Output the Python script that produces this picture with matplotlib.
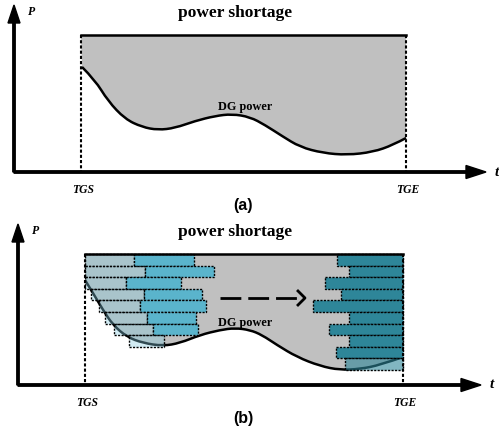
import matplotlib
matplotlib.use('Agg')
import matplotlib.pyplot as plt
from matplotlib.path import Path
from matplotlib.patches import PathPatch, Rectangle

# curve (pixel coords, y down)
curve_a_x = [82, 95, 108, 125, 142, 158, 175, 195, 215, 232, 250, 265, 282, 300, 323, 347, 373, 393, 406]
curve_a_y = [67, 80, 101, 119, 127, 130, 128, 121, 116, 114, 117, 125, 136, 147, 153, 155, 152, 145, 138]
curve_b_x = [85, 93, 103, 113, 127, 143, 163, 180, 200, 220, 235, 250, 262, 277, 297, 320, 340, 360, 380, 403]
curve_b_y = [280, 293, 310, 325, 337, 343, 346, 343, 335, 330, 328, 330, 335, 345, 357, 366, 370, 369, 365, 357]

# left block rows (panel b): grey part start / split / blue end
left_start = [85, 85, 85, 91, 99, 105, 114, 129]
left_split = [134, 145, 126, 144, 140, 147, 153, 164]
left_end = [194, 214, 181, 202, 206, 196, 198, None]
# right block rows (panel b): start of each bar, all end at TGE
right_start = [337, 349, 325, 341, 313, 349, 329, 349, 336, 345]

panel_a = dict(ox=14, oy=172, top=35, tgs=81, tge=406, tip_x=486, tip_y=5, dg=72)
panel_b = dict(ox=18, oy=385, top=254, tgs=85, tge=403, tip_x=481, tip_y=224, dg=69)

row_h = 11.6
lw = 1.8
serif = 'Liberation Serif'


def curve_verts(xs, ys):
    verts = [(xs[0], ys[0])]
    codes = [Path.LINETO]
    n = len(xs)
    for i in range(1, n - 1):
        end = (xs[n - 1], ys[n - 1]) if i == n - 2 else ((xs[i] + xs[i + 1]) / 2, (ys[i] + ys[i + 1]) / 2)
        verts += [(xs[i], ys[i]), end]
        codes += [Path.CURVE3, Path.CURVE3]
    return verts, codes


def draw_panel(ax, p, cx, cy, label):
    # gray region between top line and DG curve
    v, c = curve_verts(cx, cy)
    verts = [(p['tgs'], p['top'])] + v + [(p['tge'], p['top']), (p['tgs'], p['top'])]
    codes = [Path.MOVETO] + c + [Path.LINETO, Path.CLOSEPOLY]
    ax.add_patch(PathPatch(Path(verts, codes), facecolor='#c0c0c0', edgecolor='none', zorder=1))
    c2 = [Path.MOVETO] + c[1:]
    ax.add_patch(PathPatch(Path(v, c2), facecolor='none', edgecolor='black', lw=lw, zorder=2))
    ax.plot([p['tgs'], p['tge']], [p['top'], p['top']], color='black', lw=lw, zorder=5)
    for x in (p['tgs'], p['tge']):
        ax.plot([x, x], [p['top'], p['oy']], color='black', lw=1.5,
                linestyle=(0, (1.5, 1)), zorder=5)
    # axes arrows
    ax.arrow(p['ox'], p['oy'], p['tip_x'] - p['ox'], 0, width=2.4, head_width=13,
             head_length=20, length_includes_head=True, color='black', zorder=6)
    ax.arrow(p['ox'], p['oy'], 0, p['tip_y'] - p['oy'], width=2.4, head_width=12,
             head_length=18, length_includes_head=True, color='black', zorder=6)
    ax.text(p['ox'] + 18, p['tip_y'] + 7, 'P', family=serif, weight='bold', style='italic',
            fontsize=8.5, ha='center', va='center')
    ax.text(p['tip_x'] + 11, p['oy'], 't', family=serif, weight='bold', style='italic',
            fontsize=11, ha='center', va='center')
    ax.text(p['tgs'] + 2, p['oy'] + 18, 'TGS', family=serif, weight='bold', style='italic',
            fontsize=8.4, ha='center', va='center')
    ax.text(p['tge'] + 2, p['oy'] + 18, 'TGE', family=serif, weight='bold', style='italic',
            fontsize=8.4, ha='center', va='center')
    ax.text(235, p['top'] - 22, 'power shortage', family=serif, weight='bold',
            fontsize=12.5, ha='center', va='center')
    ax.text(245, p['top'] + p['dg'], 'DG power', family=serif, weight='bold',
            fontsize=8.8, ha='center', va='center', zorder=7)
    ax.text(243, p['oy'] + 33, label, family='Liberation Sans', weight='bold',
            fontsize=11.5, ha='center', va='center')


fig = plt.figure(figsize=(4.99, 4.43), dpi=100)
ax = fig.add_axes([0, 0, 1, 1])
ax.set_xlim(0, 499)
ax.set_ylim(443, 0)
ax.axis('off')

draw_panel(ax, panel_a, curve_a_x, curve_a_y, '(a)')
draw_panel(ax, panel_b, curve_b_x, curve_b_y, '(b)')

edge = dict(edgecolor='black', lw=1.0, linestyle=(0, (1.5, 1)))
top = panel_b['top']
for i in range(len(left_start)):
    y = top + i * row_h
    ax.add_patch(Rectangle((left_start[i], y), left_split[i] - left_start[i], row_h,
                           facecolor=(132 / 255, 203 / 255, 224 / 255, 0.37), zorder=3, **edge))
    if left_end[i] is not None:
        ax.add_patch(Rectangle((left_split[i], y), left_end[i] - left_split[i], row_h,
                               facecolor='#5ab4cc', zorder=3, **edge))

for i in range(len(right_start)):
    y = top + i * row_h
    last = i == len(right_start) - 1
    ax.add_patch(Rectangle((right_start[i], y), panel_b['tge'] - right_start[i], row_h,
                           facecolor=(46 / 255, 134 / 255, 153 / 255, 0.6 if last else 1.0),
                           zorder=3, **edge))

# dashed shift arrow with an open head
ax.plot([220, 304], [298, 298], color='black', lw=2, linestyle=(0, (7.5, 2.5)), zorder=4)
ax.plot([298, 305, 298], [291, 298, 305], color='black', lw=2, zorder=4)

fig.savefig('out.png', dpi=100)
